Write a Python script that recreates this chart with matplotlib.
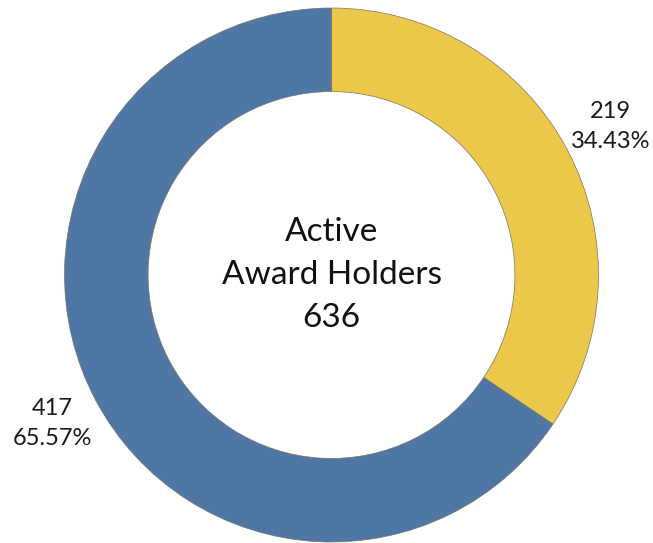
import matplotlib.pyplot as plt

# ===== Data =====
categories = ["Group A", "Group B"]
counts = [219, 417]
colors = ["#ebc84a", "#4e77a5"]
center_title = "Active\nAward Holders"

total = sum(counts)
labels = [f"{c}\n{c / total * 100:.2f}%" for c in counts]

# ===== Figure =====
fig = plt.figure(figsize=(6.53, 5.43), dpi=100)
ax = fig.add_axes([0, 0, 1, 1])

R = 267.0
cx, cy = 331.5, 275.0  # pixel centre of the donut
ax.pie(
    counts,
    labels=labels,
    colors=colors,
    startangle=90,
    counterclock=False,
    radius=1,
    labeldistance=1.185,
    wedgeprops=dict(width=0.313, edgecolor="#7a7565", linewidth=0.5),
    textprops=dict(ha="center", va="center", fontsize=17,
                   family="Lato", color="#1a1a1a", linespacing=1.5),
)

ax.text(0, 0, f"{center_title}\n{total}", ha="center", va="center",
        fontsize=24, family="Lato", color="#111111", linespacing=1.55)

ax.set_xlim(-cx / R, (653 - cx) / R)
ax.set_ylim(-(543 - cy) / R, cy / R)
ax.set_aspect("auto")
ax.axis("off")

fig.savefig("out.png", dpi=100)
